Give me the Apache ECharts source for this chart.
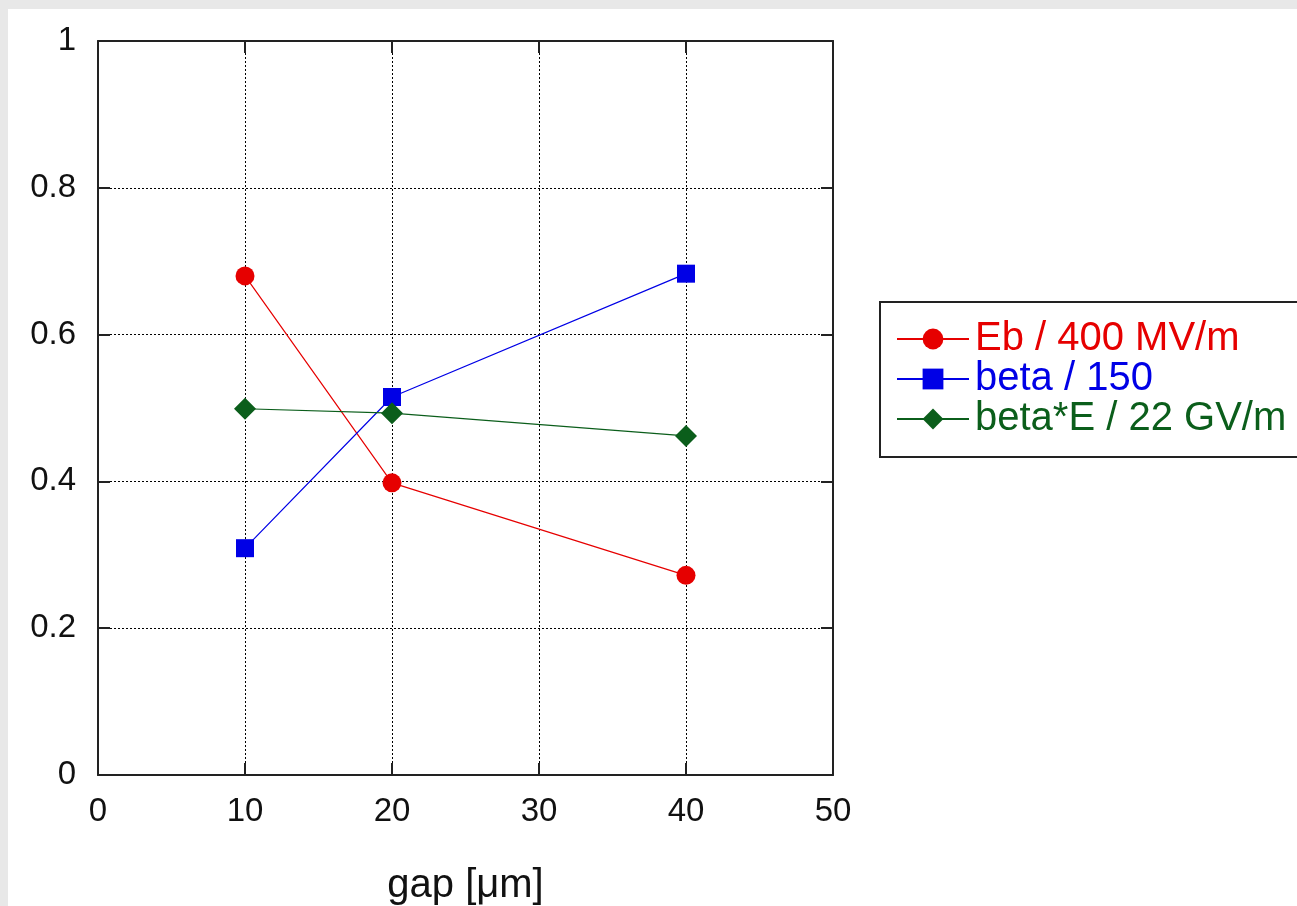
<!DOCTYPE html>
<html>
<head>
<meta charset="utf-8">
<script src="https://cdn.jsdelivr.net/npm/echarts@6/dist/echarts.min.js"></script>
<style>
  html, body { margin: 0; padding: 0; background: #e8e8e8; overflow: hidden; }
  #chart { position: absolute; left: 8px; top: 9px; width: 1289px; height: 897px; background: #ffffff; }
</style>
</head>
<body>
<div id="chart"></div>
<script>
// gap widths in micrometres
const gaps = [10, 20, 40];
// normalised quantities per gap
const ebValues = [0.680, 0.398, 0.272];      // Eb / 400 MV/m
const betaValues = [0.309, 0.515, 0.683];    // beta / 150
const betaEValues = [0.499, 0.493, 0.462];   // beta*E / 22 GV/m

const seriesNames = ['Eb / 400 MV/m', 'beta / 150', 'beta*E / 22 GV/m'];
const seriesColors = ['#e60000', '#0000e6', '#0b5e1b'];
const seriesSymbols = ['circle', 'rect', 'diamond'];
const seriesValues = [ebValues, betaValues, betaEValues];

const FONT = 'Liberation Sans, Arial, sans-serif';

const chart = echarts.init(document.getElementById('chart'));

const gridLine = { show: true, lineStyle: { color: '#000', width: 1, type: [2, 2] } };
const frameLine = { show: true, onZero: false, lineStyle: { color: '#222', width: 2 } };
const innerTick = { show: true, inside: true, length: 12, lineStyle: { color: '#222', width: 2 } };

chart.setOption({
  animation: false,
  grid: { left: 90, top: 32, width: 735, height: 734, containLabel: false, outerBoundsMode: 'none' },
  xAxis: [
    {
      type: 'value', min: 0, max: 50, interval: 10, position: 'bottom',
      axisLine: frameLine, axisTick: innerTick, splitLine: gridLine,
      axisLabel: { color: '#111', fontSize: 33, fontFamily: FONT, margin: 20 },
      name: 'gap [\u03bcm]', nameLocation: 'middle', nameGap: 91,
      nameTextStyle: { color: '#111', fontSize: 40, fontFamily: FONT }
    },
    {
      type: 'value', min: 0, max: 50, interval: 10, position: 'top',
      axisLine: frameLine, axisTick: innerTick, splitLine: { show: false },
      axisLabel: { show: false }
    }
  ],
  yAxis: [
    {
      type: 'value', min: 0, max: 1, interval: 0.2, position: 'left',
      axisLine: frameLine, axisTick: innerTick, splitLine: gridLine,
      axisLabel: { color: '#111', fontSize: 33, fontFamily: FONT, margin: 22 }
    },
    {
      type: 'value', min: 0, max: 1, interval: 0.2, position: 'right',
      axisLine: frameLine, axisTick: innerTick, splitLine: { show: false },
      axisLabel: { show: false }
    }
  ],
  legend: {
    orient: 'vertical',
    left: 872, top: 293,
    padding: [17, 60, 18, 16],
    borderColor: '#222', borderWidth: 2,
    backgroundColor: '#fff',
    itemWidth: 72, itemHeight: 26, itemGap: 0,
    textStyle: { fontSize: 40, fontFamily: FONT, lineHeight: 40, padding: [0, 0, 0, 1] },
    data: seriesNames.map((n, i) => ({ name: n, textStyle: { color: seriesColors[i] } }))
  },
  series: seriesNames.map((name, i) => ({
    name: name,
    type: 'line',
    data: gaps.map((g, k) => [g, seriesValues[i][k]]),
    symbol: seriesSymbols[i],
    symbolSize: seriesSymbols[i] === 'diamond' ? 22 : (seriesSymbols[i] === 'rect' ? 18 : 19),
    color: seriesColors[i],
    lineStyle: { color: seriesColors[i], width: 1.2 },
    itemStyle: { color: seriesColors[i] },
    z: 3 + i
  }))
});
</script>
</body>
</html>
